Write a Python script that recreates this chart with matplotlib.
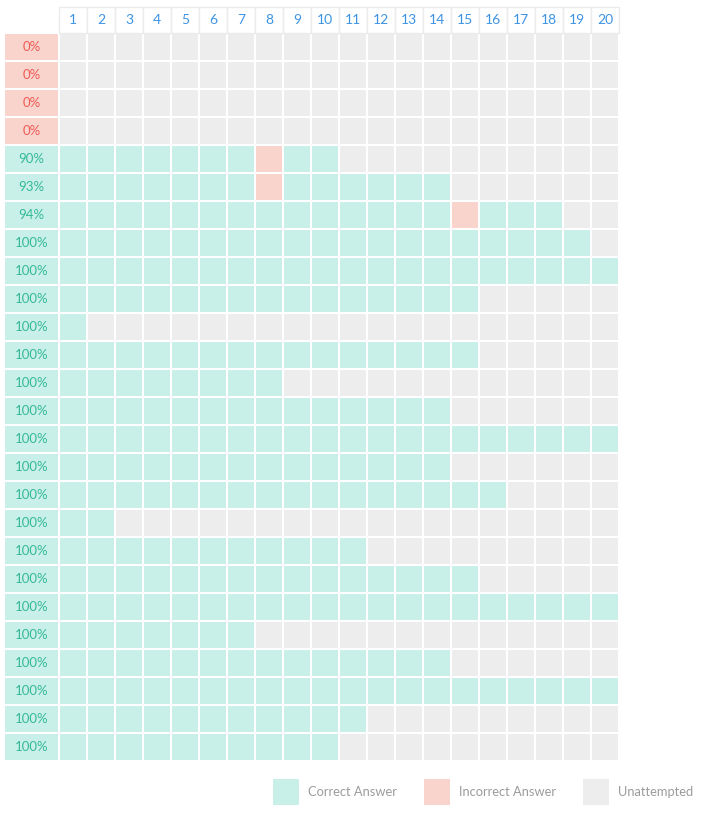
import matplotlib
matplotlib.use("Agg")
import matplotlib.pyplot as plt
from matplotlib.patches import Rectangle

# row scores and answers
row_labels = ["0%", "0%", "0%", "0%", "90%", "93%", "94%"] + ["100%"] * 19
attempted = [0, 0, 0, 0, 10, 14, 18, 19, 20, 15, 1, 15, 8, 14, 20, 14, 16, 2, 11, 15, 20, 7, 14, 20, 11, 10]
wrong = [[], [], [], [], [8], [8], [15]] + [[] for _ in range(19)]
questions = list(range(1, 21))
legend_labels = ["Correct Answer", "Incorrect Answer", "Unattempted"]

GREEN_BG = "#c9f0e8"
RED_BG = "#f8d4cc"
GREY_BG = "#ededed"
GREEN_TXT = "#34b995"
RED_TXT = "#ef5a55"
BLUE_TXT = "#3d93e3"
LEGEND_TXT = "#9b9b9b"

# layout in pixels
X0 = 60        # left of question 1
Y0 = 34        # top of first row
PITCH = 28
CELL = 26

plt.rcParams["font.family"] = ["Lato", "DejaVu Sans"]

fig = plt.figure(figsize=(7.01, 8.14), dpi=100)
ax = fig.add_axes([0, 0, 1, 1])
ax.set_xlim(0, 701)
ax.set_ylim(814, 0)
ax.axis("off")

# header
for q in questions:
    x = X0 + (q - 1) * PITCH - 1
    ax.add_patch(Rectangle((x, Y0 - 27), PITCH, 26, facecolor="white", edgecolor="#ebebeb", linewidth=1.0))
    ax.text(x + PITCH / 2, Y0 - 14, str(q), ha="center", va="center", fontsize=10, color=BLUE_TXT)

# rows
for r, (lab, n, bad) in enumerate(zip(row_labels, attempted, wrong)):
    y = Y0 + r * PITCH
    zero = lab == "0%"
    ax.add_patch(Rectangle((5, y), 53, CELL, facecolor=RED_BG if zero else GREEN_BG, edgecolor="none"))
    ax.text(31.5, y + CELL / 2, lab, ha="center", va="center", fontsize=9.5,
            color=RED_TXT if zero else GREEN_TXT)
    for q in questions:
        if q in bad:
            c = RED_BG
        elif q <= n:
            c = GREEN_BG
        else:
            c = GREY_BG
        ax.add_patch(Rectangle((X0 + (q - 1) * PITCH, y), CELL, CELL, facecolor=c, edgecolor="none"))

# legend
leg_x = [273, 424, 583]
for lx, lab, c in zip(leg_x, legend_labels, [GREEN_BG, RED_BG, GREY_BG]):
    ax.add_patch(Rectangle((lx, 779), 26, 26, facecolor=c, edgecolor="none"))
    ax.text(lx + 35, 792, lab, ha="left", va="center", fontsize=9.3, color=LEGEND_TXT)

fig.savefig("out.png", dpi=100, facecolor="white")
